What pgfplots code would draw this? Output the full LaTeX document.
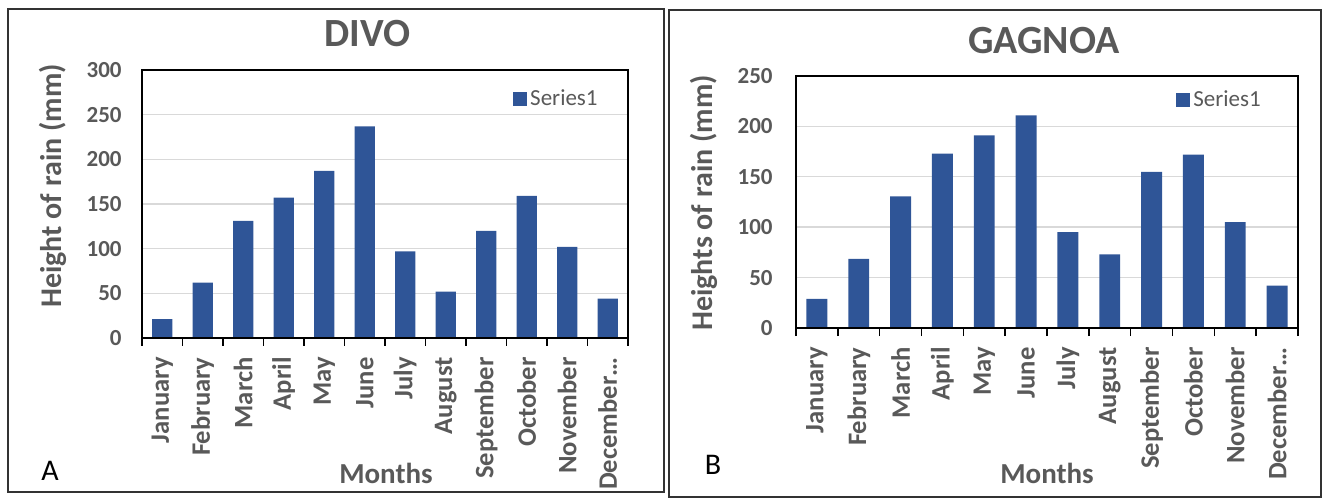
\documentclass[border=0pt]{standalone}
\usepackage{fontspec}
\setmainfont{Carlito}
\usepackage{pgfplots}
\pgfplotsset{compat=1.18}

\definecolor{barblue}{HTML}{2F5597}
\definecolor{txtgray}{HTML}{595959}
\definecolor{gridgray}{HTML}{D9D9D9}

\pgfplotsset{
  rainchart/.style={
    scale only axis,
    ybar, bar width=0.5,
    xmin=0.5, xmax=12.5, ymin=0,
    xtick={1,...,12},
    xticklabels={January,February,March,April,May,June,July,August,September,October,November,December…},
    minor xtick={0.5,1.5,...,12.5},
    tick pos=left,
    tick align=outside,
    major tick length=0pt,
    minor tick length=4bp,
    minor tick style={black, line width=0.8bp},
    ytick style={draw=none},
    ymajorgrids,
    grid style={gridgray, line width=0.7bp},
    axis line style={black, line width=0.6bp},
    /pgf/number format/assume math mode=true,
    xticklabel shift=9.5bp,
    xticklabel style={rotate=90, anchor=east, inner xsep=0pt,
      font={\fontsize{13.3bp}{15bp}\selectfont\bfseries}, text=txtgray},
    yticklabel style={font={\fontsize{11.5bp}{13bp}\selectfont\bfseries}, text=txtgray},
    title style={font={\fontsize{20bp}{24bp}\selectfont\bfseries}, text=txtgray, anchor=center},
    xlabel style={font={\fontsize{14.5bp}{17bp}\selectfont\bfseries}, text=txtgray, anchor=center},
    ylabel style={font={\fontsize{15bp}{18bp}\selectfont\bfseries}, text=txtgray, anchor=center},
    legend style={draw=none, fill=none, inner sep=0pt, anchor=west,
      font={\fontsize{11.5bp}{13bp}\selectfont}, text=txtgray,
      nodes={inner xsep=1.5bp, inner ysep=0pt}},
    legend image code/.code={\fill[barblue] (0bp,-3.5bp) rectangle (7bp,3.5bp);},
  }
}

\begin{document}
\begin{tikzpicture}
\useasboundingbox (0,0) rectangle (664bp,249bp);

% panel frames
\draw[black!80, line width=0.8bp] (4bp,3bp) rectangle (332bp,244.5bp);
\draw[black!80, line width=0.8bp] (334.5bp,0.5bp) rectangle (660.5bp,244bp);

% A: DIVO
\begin{axis}[rainchart,
  at={(71bp,80bp)}, anchor=south west,
  width=243bp, height=134bp,
  ymax=300, ytick={0,50,...,300},
  yticklabel style={inner xsep=10bp},
  title={DIVO}, title style={at={(axis description cs:0.464,1.090)}},
  xlabel={Months}, xlabel style={at={(axis description cs:0.502,-0.507)}},
  ylabel={Height of rain (mm)}, ylabel style={at={(axis description cs:-0.183,0.567)}},
  legend style={at={(axis description cs:0.763,0.892)}},
]
\addplot[fill=barblue, draw=none] coordinates {
  (1,21) (2,62) (3,131) (4,157) (5,187) (6,237)
  (7,97) (8,52) (9,120) (10,159) (11,102) (12,44)
};
\addlegendentry{Series1}
\draw[black, line width=1.2bp] (rel axis cs:0,0) -- (rel axis cs:1,0);
\end{axis}

% B: GAGNOA
\begin{axis}[rainchart,
  at={(398bp,85bp)}, anchor=south west,
  width=251bp, height=126bp,
  ymax=250, ytick={0,50,...,250},
  yticklabel style={inner xsep=11.5bp},
  title={GAGNOA}, title style={at={(axis description cs:0.494,1.093)}},
  xlabel={Months}, xlabel style={at={(axis description cs:0.5,-0.579)}},
  ylabel={Heights of rain (mm)}, ylabel style={at={(axis description cs:-0.183,0.496)}},
  legend style={at={(axis description cs:0.757,0.903)}},
]
\addplot[fill=barblue, draw=none] coordinates {
  (1,29) (2,68.5) (3,130.5) (4,173) (5,191) (6,211)
  (7,95) (8,73) (9,155) (10,172) (11,105) (12,42)
};
\addlegendentry{Series1}
\draw[black, line width=1.2bp] (rel axis cs:0,0) -- (rel axis cs:1,0);
\end{axis}

\node[font={\fontsize{15bp}{17bp}\selectfont}] at (25bp,13.75bp) {A};
\node[font={\fontsize{15bp}{17bp}\selectfont}] at (356.5bp,16.5bp) {B};
\end{tikzpicture}
\end{document}
